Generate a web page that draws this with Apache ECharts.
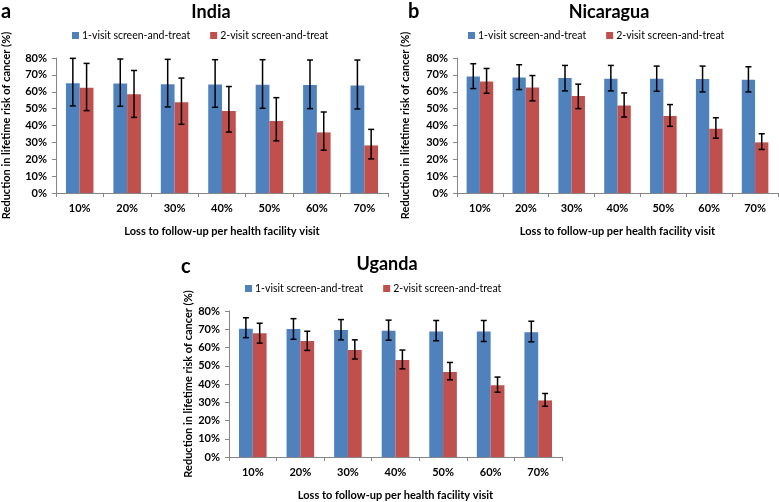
<!DOCTYPE html>
<html>
<head>
<meta charset="utf-8">
<title>Loss to follow-up</title>
<script src="https://cdn.jsdelivr.net/npm/echarts@6/dist/echarts.min.js"></script>
<style>
  html, body { margin: 0; padding: 0; background: #fff; }
  #main { width: 779px; height: 502px; }
</style>
</head>
<body>
<div id="main"></div>
<script>
var categories = ['10%', '20%', '30%', '40%', '50%', '60%', '70%'];
var yTicks = [0, 10, 20, 30, 40, 50, 60, 70, 80];

// India
var indiaOne = [65.1, 64.9, 64.5, 64.3, 64.1, 64.0, 63.7];
var indiaOneLo = [51.6, 51.4, 51.0, 50.8, 50.2, 50.0, 49.8];
var indiaOneHi = [79.8, 79.4, 79.2, 79.0, 79.0, 78.8, 78.8];
var indiaTwo = [62.3, 58.5, 53.8, 48.6, 42.7, 35.9, 28.2];
var indiaTwoLo = [48.8, 44.8, 40.7, 36.1, 30.9, 25.4, 20.2];
var indiaTwoHi = [76.8, 72.6, 68.1, 63.1, 56.5, 48.0, 37.7];

// Nicaragua
var nicOne = [69.0, 68.5, 68.1, 67.7, 67.7, 67.5, 67.1];
var nicOneLo = [61.9, 61.3, 60.5, 60.5, 60.3, 59.9, 59.9];
var nicOneHi = [76.6, 76.0, 75.6, 75.6, 75.2, 75.2, 74.8];
var nicTwo = [66.1, 62.5, 57.5, 51.8, 45.6, 38.1, 30.0];
var nicTwoLo = [59.1, 54.6, 50.0, 45.0, 39.5, 32.5, 25.8];
var nicTwoHi = [73.8, 69.6, 64.5, 59.3, 52.4, 44.6, 35.1];

// Uganda
var ugOne = [70.3, 70.1, 69.6, 69.2, 68.7, 68.7, 68.3];
var ugOneLo = [65.4, 64.5, 64.2, 64.0, 63.7, 63.3, 63.1];
var ugOneHi = [76.3, 75.8, 75.3, 75.0, 74.8, 74.8, 74.4];
var ugTwo = [67.8, 63.5, 58.6, 53.2, 46.6, 39.3, 31.0];
var ugTwoLo = [62.4, 58.4, 53.7, 48.3, 42.3, 35.5, 27.8];
var ugTwoHi = [73.3, 68.9, 64.2, 58.6, 51.8, 43.8, 34.8];

var nameOne = '1-visit screen-and-treat';
var nameTwo = '2-visit screen-and-treat';
var blue = '#4F81BD';
var red = '#C0504D';
var font = 'Lato';
var gapPct = 0.42;

var chart = echarts.init(document.getElementById('main'));

function errData(lo, hi) {
  return lo.map(function (v, i) { return [i, v, hi[i]]; });
}

// side: -1 left bar, +1 right bar
function errorRender(side) {
  return function (params, api) {
    var i = api.value(0);
    var lo = api.coord([i, api.value(1)]);
    var hi = api.coord([i, api.value(2)]);
    var bw = api.size([1, 0])[0] * (1 - gapPct) / 2;
    var cx = lo[0] + side * bw / 2;
    var cap = 3;
    var st = { stroke: '#000', lineWidth: 1.5 };
    return {
      type: 'group',
      children: [
        { type: 'line', shape: { x1: cx, y1: lo[1], x2: cx, y2: hi[1] }, style: st },
        { type: 'line', shape: { x1: cx - cap, y1: lo[1], x2: cx + cap, y2: lo[1] }, style: st },
        { type: 'line', shape: { x1: cx - cap, y1: hi[1], x2: cx + cap, y2: hi[1] }, style: st }
      ]
    };
  };
}

function xAxisFor(idx) {
  return {
    type: 'category', gridIndex: idx, data: categories,
    name: 'Loss to follow-up per health facility visit',
    nameLocation: 'middle', nameGap: 33,
    nameTextStyle: { fontFamily: font, fontWeight: 'bold', fontSize: 11, color: '#000' },
    axisLine: { lineStyle: { color: '#868686', width: 1 } },
    axisTick: { show: true, length: 4, lineStyle: { color: '#868686' } },
    axisLabel: { fontFamily: font, fontWeight: 'bold', fontSize: 11, color: '#000', margin: 10 }
  };
}

function yAxisFor(idx, gap) {
  return {
    type: 'value', gridIndex: idx, min: 0, max: 80, interval: 10,
    name: 'Reduction in lifetime risk of cancer (%)',
    nameLocation: 'middle', nameRotate: 90, nameGap: gap,
    nameTextStyle: { fontFamily: font, fontWeight: 'bold', fontSize: 11, color: '#000' },
    axisLine: { show: true, lineStyle: { color: '#868686', width: 1 } },
    axisTick: { show: true, length: 4, lineStyle: { color: '#868686' } },
    splitLine: { show: false },
    axisLabel: {
      fontFamily: font, fontWeight: 'bold', fontSize: 11, color: '#000', margin: 9,
      customValues: yTicks,
      formatter: function (v) { return v + '%'; }
    }
  };
}

function barSeries(idx, name, data, color) {
  return {
    type: 'bar', name: name, xAxisIndex: idx, yAxisIndex: idx, data: data,
    barGap: '0%', barCategoryGap: (gapPct * 100) + '%',
    itemStyle: { color: color },
    emphasis: { disabled: true }
  };
}

function errSeries(idx, lo, hi, side) {
  return {
    type: 'custom', xAxisIndex: idx, yAxisIndex: idx,
    renderItem: errorRender(side),
    encode: { x: 0, y: [1, 2] },
    data: errData(lo, hi), z: 10, silent: true
  };
}

function legendFor(left, top) {
  return {
    left: left, top: top, data: [nameOne, nameTwo],
    icon: 'rect', itemWidth: 7, itemHeight: 7, itemGap: 20,
    selectedMode: false,
    textStyle: { fontFamily: font, fontSize: 10.5, color: '#000', padding: [0, 0, 0, -2] }
  };
}

var titleStyle = { fontFamily: font, fontWeight: 'bold', fontSize: 18, color: '#000' };
var letterStyle = { fontFamily: font, fontWeight: 'bold', fontSize: 20, color: '#000' };

var option = {
  animation: false,
  title: [
    { text: 'India', left: 206, top: -2, textAlign: 'center', textStyle: titleStyle },
    { text: 'Nicaragua', left: 604, top: -2, textAlign: 'center', textStyle: titleStyle },
    { text: 'Uganda', left: 382, top: 250, textAlign: 'center', textStyle: titleStyle },
    { text: 'a', left: -4, top: -3, textStyle: letterStyle },
    { text: 'b', left: 403, top: -3, textStyle: letterStyle },
    { text: 'c', left: 176, top: 252, textStyle: letterStyle }
  ],
  legend: [legendFor(67, 25), legendFor(463, 25), legendFor(240, 278)],
  grid: [
    { left: 49, top: 58, width: 339, height: 135 },
    { left: 457, top: 58, width: 321, height: 135 },
    { left: 229, top: 311, width: 333, height: 153 }
  ],
  xAxis: [xAxisFor(0), xAxisFor(1), xAxisFor(2)],
  yAxis: [yAxisFor(0, 44), yAxisFor(1, 46), yAxisFor(2, 34)],
  series: [
    barSeries(0, nameOne, indiaOne, blue),
    barSeries(0, nameTwo, indiaTwo, red),
    errSeries(0, indiaOneLo, indiaOneHi, -1),
    errSeries(0, indiaTwoLo, indiaTwoHi, 1),
    barSeries(1, nameOne, nicOne, blue),
    barSeries(1, nameTwo, nicTwo, red),
    errSeries(1, nicOneLo, nicOneHi, -1),
    errSeries(1, nicTwoLo, nicTwoHi, 1),
    barSeries(2, nameOne, ugOne, blue),
    barSeries(2, nameTwo, ugTwo, red),
    errSeries(2, ugOneLo, ugOneHi, -1),
    errSeries(2, ugTwoLo, ugTwoHi, 1)
  ]
};

chart.setOption(option);
</script>
</body>
</html>
